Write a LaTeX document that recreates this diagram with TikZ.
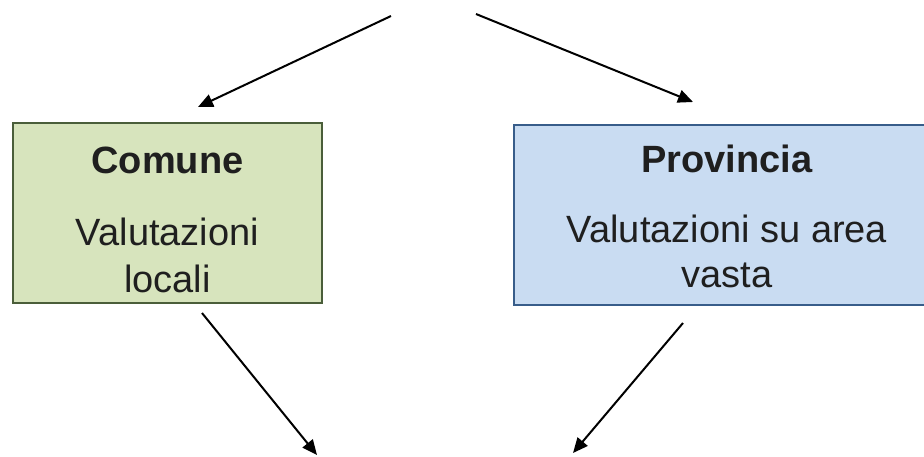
\documentclass[tikz,border=0pt]{standalone}
\usepackage{fontspec}
\setmainfont{Liberation Sans}
\usetikzlibrary{arrows.meta}
\definecolor{gfill}{HTML}{D7E4BD}
\definecolor{gdraw}{HTML}{4A5E3A}
\definecolor{bfill}{HTML}{C9DCF2}
\definecolor{bdraw}{HTML}{385D8A}
\tikzset{
  boxstyle/.style={draw, line width=1.6pt, minimum width=#1, minimum height=180pt, inner sep=0pt},
  txt/.style={anchor=base, font=\fontsize{38}{44}\selectfont, text=black!88},
  conn/.style={line width=2pt, -{Triangle[length=15pt,width=13pt]}}
}
\begin{document}
\begin{tikzpicture}[x=1pt,y=-1pt]
\useasboundingbox (0,0) rectangle (924,456);
\fill[white] (0,0) rectangle (924,456);
\node[boxstyle=309pt, fill=gfill, draw=gdraw] (comune) at (167.5,213) {};
\node[boxstyle=426pt, fill=bfill, draw=bdraw] (prov) at (727,215) {};
\node[txt, font=\fontsize{38}{44}\selectfont\bfseries] (t1) at (167.5,173) {Comune};
\node[txt] (t2) at (167.5,245) {Valutazioni};
\node[txt] (t3) at (167.5,292) {locali};
\node[txt, font=\fontsize{38}{44}\selectfont\bfseries] (t4) at (727,172) {Provincia};
\node[txt] (t5) at (727,242) {Valutazioni su area};
\node[txt] (t6) at (727,287) {vasta};
\coordinate (s1) at (391,16);
\coordinate (e1) at (198,107);
\coordinate (s2) at (476,14);
\coordinate (e2) at (693,102);
\coordinate (s3) at (202,313);
\coordinate (e3) at (317,455);
\coordinate (s4) at (683,323);
\coordinate (e4) at (573,453);
\draw[conn] (s1) -- (e1);
\draw[conn] (s2) -- (e2);
\draw[conn] (s3) -- (e3);
\draw[conn] (s4) -- (e4);
\end{tikzpicture}
\end{document}
